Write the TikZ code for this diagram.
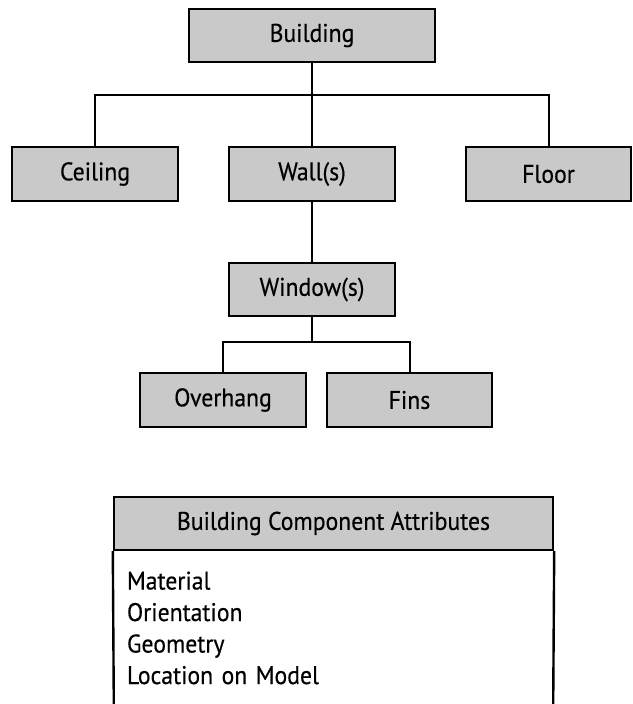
\documentclass[tikz,border=0pt]{standalone}
\usepackage{fontspec}
\setmainfont[FakeStretch=0.93, FakeBold=0.4]{PT Sans}
\usetikzlibrary{positioning, calc}

\begin{document}
\begin{tikzpicture}[
    x=1pt, y=-1pt,
    font=\fontsize{25.5}{31.5}\selectfont,
    part/.style={draw, line width=2.4pt, fill=black!21, minimum width=166pt, minimum height=54pt, inner sep=0pt},
    link/.style={line width=2pt}
]

\useasboundingbox (0,0) rectangle (632,704);

% Heights of the two branch lines
\def\busA{95}
\def\busB{342}
\coordinate (busA) at (0,\busA);
\coordinate (busB) at (0,\busB);

% Component tree
\node[part, minimum width=246pt, minimum height=53pt] (building) at (312,35.5) {Building};
\node[part] (ceiling) at (95,174) {Ceiling};
\node[part] (wall) at (312,174) {Wall(s)};
\node[part, minimum width=165pt] (floor) at (548.5,174) {Floor};
\node[part, minimum height=53pt] (window) at (312,289.5) {Window(s)};
\node[part] (overhang) at (223,400) {Overhang};
\node[part, minimum width=165pt] (fins) at (409.5,400) {Fins};

% Connectors
\draw[link] (building) -- (wall);
\draw[link] (ceiling.north) -- (ceiling.north |- busA) -- (floor.north |- busA) -- (floor.north);
\draw[link] (wall) -- (window);
\draw[link] (overhang.north) -- (overhang.north |- busB) -- (fins.north |- busB) -- (fins.north);
\draw[link] (window.south) -- (window.south |- busB);

% Attribute table
\node[part, minimum width=439pt, minimum height=53pt] (head) at (333.5,523.5) {Building Component Attributes};
\node[minimum width=439pt, minimum height=153pt, text width=413pt, align=left, inner sep=0pt, anchor=north] (attr) at (head.south) {Material\\Orientation\\Geometry\\Location on Model};
\draw[line width=2.4pt] (head.south west) -- (attr.south west);
\draw[line width=2.4pt] (head.south east) -- (attr.south east);
\draw[black!15, line width=1pt] (attr.south west) -- (attr.south east);

\end{tikzpicture}
\end{document}
